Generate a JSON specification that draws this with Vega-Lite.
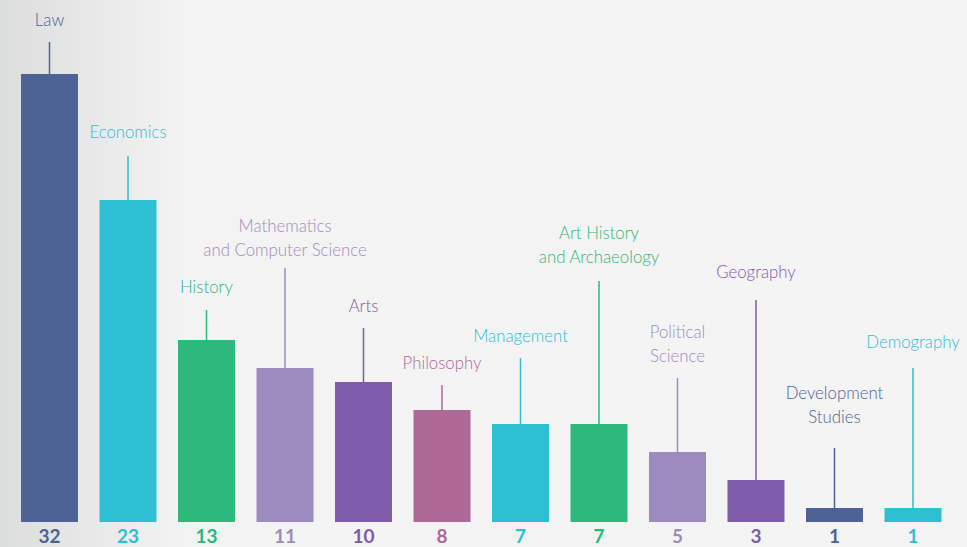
{
  "$schema": "https://vega.github.io/schema/vega-lite/v6.json",
  "width": 967,
  "height": 547,
  "autosize": {"type": "none"},
  "padding": 0,
  "background": "#f4f4f4",
  "view": {
    "stroke": null,
    "fill": {
      "gradient": "linear", "x1": 0, "y1": 0, "x2": 1, "y2": 0,
      "stops": [
        {"offset": 0, "color": "#dcdddd"},
        {"offset": 0.19, "color": "#f3f3f3"},
        {"offset": 1, "color": "#f4f4f4"}
      ]
    }
  },
  "data": {
    "values": [
      {"name": "Law", "label": "Law", "value": 32, "labelY": 35.81, "stemTop": 34.29},
      {"name": "Economics", "label": "Economics", "value": 23, "labelY": 27.81, "stemTop": 26.14},
      {"name": "History", "label": "History", "value": 13, "labelY": 16.71, "stemTop": 15.14},
      {"name": "Mathematics and Computer Science", "label": "Mathematics\nand Computer Science", "value": 11, "labelY": 21.09, "stemTop": 18.14},
      {"name": "Arts", "label": "Arts", "value": 10, "labelY": 15.38, "stemTop": 13.86},
      {"name": "Philosophy", "label": "Philosophy", "value": 8, "labelY": 11.29, "stemTop": 9.79},
      {"name": "Management", "label": "Management", "value": 7, "labelY": 13.21, "stemTop": 11.71},
      {"name": "Art History and Archaeology", "label": "Art History\nand Archaeology", "value": 7, "labelY": 20.57, "stemTop": 17.21},
      {"name": "Political Science", "label": "Political\nScience", "value": 5, "labelY": 13.5, "stemTop": 10.29},
      {"name": "Geography", "label": "Geography", "value": 3, "labelY": 17.79, "stemTop": 15.86},
      {"name": "Development Studies", "label": "Development\nStudies", "value": 1, "labelY": 9.14, "stemTop": 5.29},
      {"name": "Demography", "label": "Demography", "value": 1, "labelY": 12.79, "stemTop": 11.0}
    ]
  },
  "encoding": {
    "x": {
      "field": "name", "type": "nominal", "sort": null, "axis": null,
      "scale": {"range": [10.25, 952.25], "paddingInner": 0.274, "paddingOuter": 0.137}
    },
    "color": {
      "field": "name", "type": "nominal", "legend": null,
      "scale": {
        "domain": ["Law", "Economics", "History", "Mathematics and Computer Science", "Arts", "Philosophy", "Management", "Art History and Archaeology", "Political Science", "Geography", "Development Studies", "Demography"],
        "range": ["#4e6296", "#2ebfd3", "#2db87c", "#9d8bbf", "#7e5bab", "#ae6896", "#2ebfd3", "#2db87c", "#9d8bbf", "#7e5bab", "#4e6296", "#2ebfd3"]
      }
    }
  },
  "layer": [
    {
      "mark": {"type": "bar", "width": {"band": 1}},
      "encoding": {
        "y": {"field": "value", "type": "quantitative", "axis": null, "scale": {"domain": [-1.7857, 37.2857], "nice": false, "zero": false}},
        "y2": {"datum": 0}
      }
    },
    {
      "mark": {"type": "rule", "strokeWidth": 1.5},
      "encoding": {
        "y": {"field": "stemTop", "type": "quantitative", "axis": null, "scale": {"domain": [-1.7857, 37.2857], "nice": false, "zero": false}},
        "y2": {"field": "value"}
      }
    },
    {
      "mark": {"type": "text", "lineBreak": "\n", "fontSize": 16.8, "font": "Lato", "fontWeight": 300, "baseline": "middle", "lineHeight": 24},
      "encoding": {
        "y": {"field": "labelY", "type": "quantitative", "axis": null, "scale": {"domain": [-1.7857, 37.2857], "nice": false, "zero": false}},
        "text": {"field": "label"}
      }
    },
    {
      "mark": {"type": "text", "fontSize": 19, "font": "Lato", "fontWeight": "bold", "baseline": "alphabetic", "dy": 21},
      "encoding": {
        "y": {"datum": 0, "type": "quantitative", "axis": null, "scale": {"domain": [-1.7857, 37.2857], "nice": false, "zero": false}},
        "text": {"field": "value"}
      }
    }
  ]
}
